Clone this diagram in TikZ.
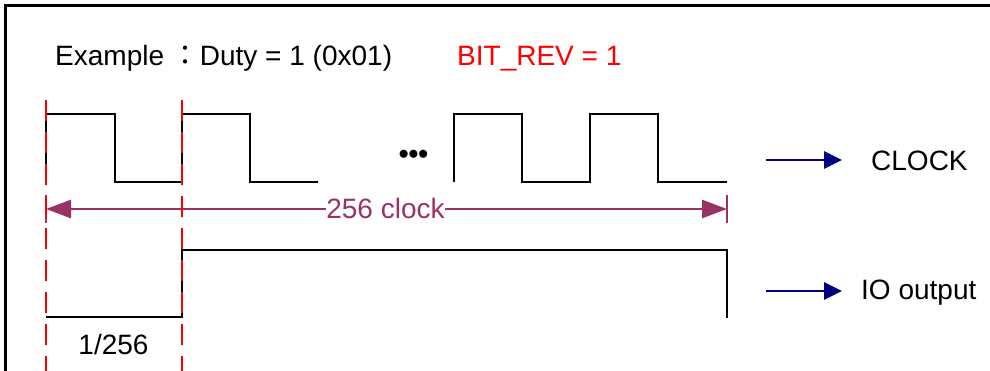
\documentclass[tikz,border=0pt]{standalone}
\usepackage{fontspec}
\setmainfont{Liberation Sans}
\newfontfamily\cjk{Noto Sans CJK TC}
\usetikzlibrary{arrows.meta}
\definecolor{dimcol}{RGB}{153,51,102}
\definecolor{arrcol}{RGB}{0,0,128}
\definecolor{redcol}{RGB}{255,0,0}
\tikzset{
  lbl/.style={inner sep=0pt, anchor=base west},
  wave/.style={line width=2.8pt, black, line join=miter},
  guide/.style={line width=2.8pt, redcol, dash pattern=on 21pt off 11pt},
  dimline/.style={line width=2.8pt, dimcol, {Triangle[length=25pt,width=18pt]}-{Triangle[length=25pt,width=18pt]}},
  dimbar/.style={line width=2.6pt, dimcol},
  sigarrow/.style={line width=2.8pt, arrcol, -{Triangle[length=18pt,width=17pt]}},
  frameline/.style={line width=3pt, black}
}
\begin{document}
\begin{tikzpicture}[x=1pt,y=-1pt,font=\fontsize{28}{34}\selectfont]
\useasboundingbox (0,0) rectangle (990,370);
\clip (0,0) rectangle (990,370);
% frame
\draw[frameline] (5,380) -- (5,5) -- (1000,5);
% title texts
\node[lbl] (title) at (55,65) {Example {\cjk ：}Duty = 1 (0x01)};
\node[lbl, text=redcol] (bitrev) at (457,65) {BIT\_REV = 1};
% clock waveform
\draw[wave] (46,182) -- (46,114) -- (115,114) -- (115,182) -- (182,182) -- (182,114) -- (250,114) -- (250,182) -- (318,182);
\node[inner sep=0pt, anchor=base] (dots) at (413.5,163) {\textbf{•••}};
\draw[wave] (454,182) -- (454,114) -- (522,114) -- (522,182) -- (590,182) -- (590,114) -- (658,114) -- (658,182) -- (727,182);
% IO output waveform
\draw[wave] (46,317) -- (182,317) -- (182,250) -- (727,250) -- (727,318);
% dimension 256 clock
\coordinate (dimL) at (46,209);
\coordinate (dimR) at (727,209);
\draw[dimbar] (46,195) -- (46,223);
\draw[dimbar] (727,195) -- (727,223);
\draw[dimline] (dimL) -- (dimR);
\node[inner sep=0pt, anchor=base, fill=white, text=dimcol] (dimtxt) at (385.5,218) {256 clock};
% 1/256 label
\node[inner sep=0pt, anchor=base] (frac) at (113.5,354) {1/256};
% red guides
\draw[guide] (46,100) -- (46,375);
\draw[guide] (182,100) -- (182,375);
% signal labels
\node[lbl] (clock) at (871,170) {CLOCK};
\node[lbl] (io) at (861,299) {IO output};
\coordinate (clkA) at (766,160);
\coordinate (ioA) at (766,291);
\draw[sigarrow] (clkA) -- ([xshift=-29pt]clock.west |- clkA);
\draw[sigarrow] (ioA) -- ([xshift=-19pt]io.west |- ioA);
\end{tikzpicture}
\end{document}
